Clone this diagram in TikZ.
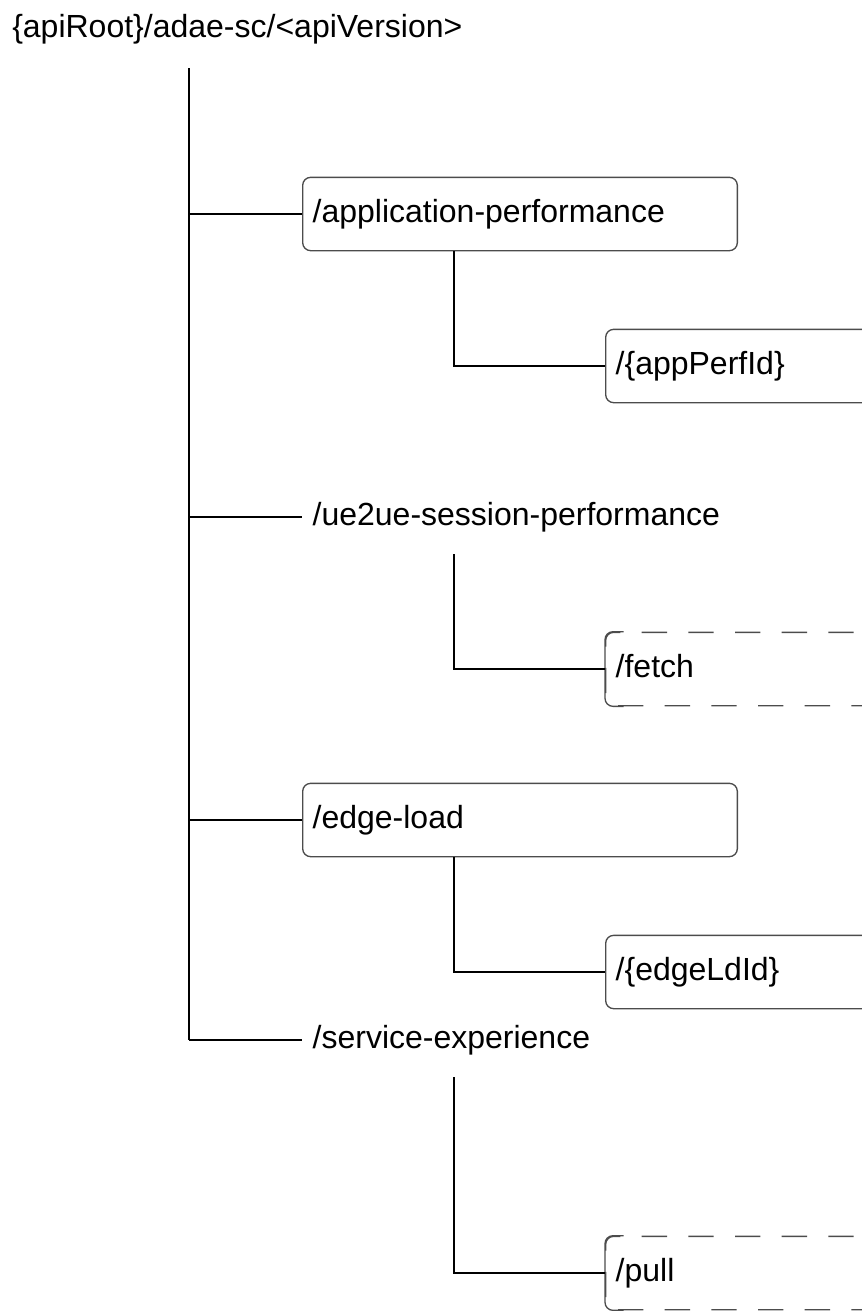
\documentclass[tikz,border=0pt]{standalone}
\usepackage{fontspec}
\setmainfont{Liberation Sans}
\usetikzlibrary{positioning}
\tikzset{
    res/.style = {rectangle, rounded corners=6pt, draw=black!70, line width=1pt, anchor=west, minimum height=55pt, text width=311pt, inner xsep=7.5pt, align=left, text height=1.3em, text depth=0pt, font=\fontsize{24}{28}\selectfont},
    resd/.style = {res, dash pattern=on 19pt off 16pt, dash phase=6pt}, % optional
    resn/.style = {res, draw=none}, % no box
    side/.style = {draw=black!70, line width=1pt, rounded corners=6pt},
    link/.style = {line width=1pt, black},
    root/.style = {anchor=base west, inner sep=0pt, font=\fontsize{24}{28}\selectfont}
}
\begin{document}
\begin{tikzpicture}[x=0.75pt,y=-0.75pt]
\useasboundingbox (0,0) rectangle (862,1311);
%
\node[root] at (12,37) (api) {\{apiRoot\}/adae-sc/<apiVersion>};
%
\node[res] at (302,214) (ap) {/application-performance};
\node[res] at (605,366) (apid) {/\{appPerfId\}};
\node[resn] at (302,517) (ue) {/ue2ue-session-performance};
\node[resd] at (605,669) (fe) {/fetch};
\node[res] at (302,820) (el) {/edge-load};
\node[res] at (605,972) (elid) {/\{edgeLdId\}};
\node[resn] at (302,1040) (se) {/service-experience};
\node[resd] at (605,1273) (pu) {/pull};
%
% solid left side of the dashed boxes
\draw[side] ([xshift=14pt]fe.north west) -- (fe.north west) -- (fe.south west) -- ([xshift=14pt]fe.south west);
\draw[side] ([xshift=14pt]pu.north west) -- (pu.north west) -- (pu.south west) -- ([xshift=14pt]pu.south west);
%
\coordinate (top) at (189,68);
\coordinate (bot) at (189,1040);
\coordinate (sp) at (454,0);
%
\draw[link] (top) -- (bot);
\draw[link] (top |- ap.west) -- (ap.west);
\draw[link] (top |- ue.west) -- (ue.west);
\draw[link] (top |- el.west) -- (el.west);
\draw[link] (bot) -- (se.west);
%
\draw[link] (ap.south -| sp) |- (apid.west);
\draw[link] (ue.south -| sp) |- (fe.west);
\draw[link] (el.south -| sp) |- (elid.west);
\draw[link] (se.south -| sp) |- (pu.west);

\end{tikzpicture}
\end{document}
